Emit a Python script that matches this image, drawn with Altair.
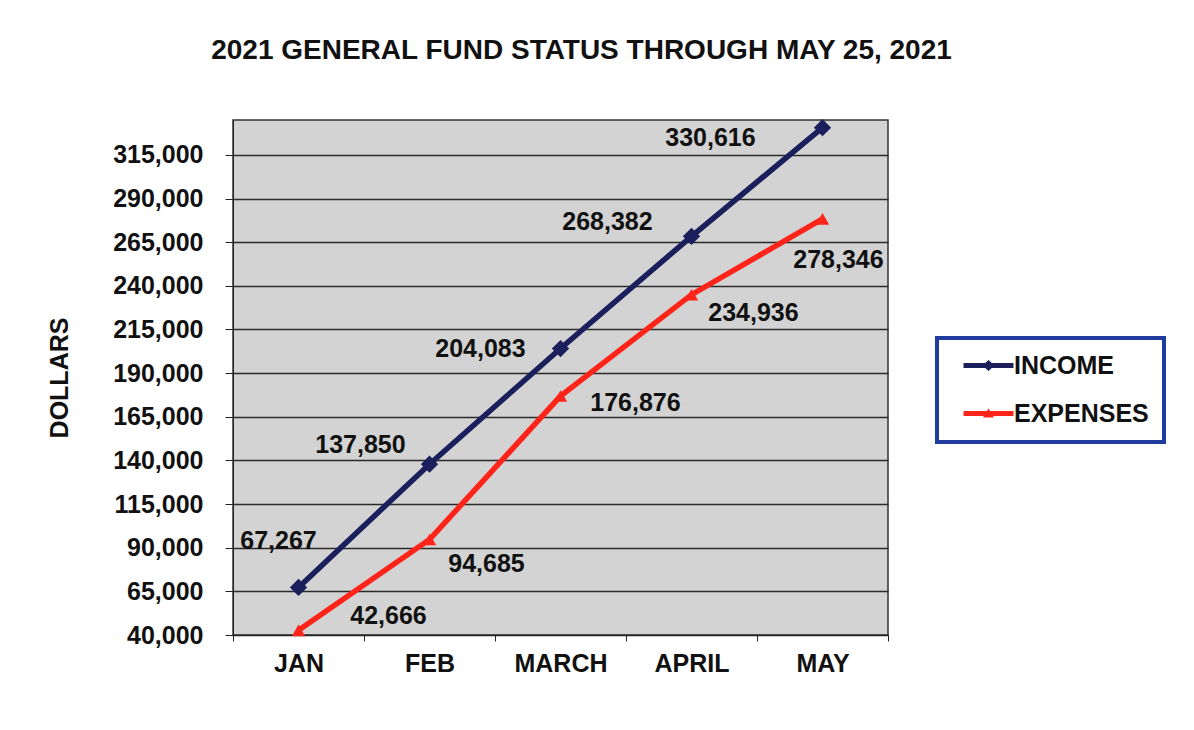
import altair as alt
import pandas as pd

months = ["JAN", "FEB", "MARCH", "APRIL", "MAY"]
income = [67267, 137850, 204083, 268382, 330616]
expenses = [42666, 94685, 176876, 234936, 278346]
series_names = ["INCOME", "EXPENSES"]
y_ticks = [40000, 65000, 90000, 115000, 140000, 165000, 190000,
           215000, 240000, 265000, 290000, 315000]

NAVY = "#1b1f5c"
RED = "#ff2419"
FONT = "Liberation Sans"
FS = 25

rows = []
for m, v in zip(months, income):
    rows.append({"month": m, "series": "INCOME", "value": v})
for m, v in zip(months, expenses):
    rows.append({"month": m, "series": "EXPENSES", "value": v})
df = pd.DataFrame(rows)

# label placement (pixel offsets from each point)
label_offsets = {
    ("INCOME", "JAN"): (-20, -46), ("INCOME", "FEB"): (-69, -19),
    ("INCOME", "MARCH"): (-80, 0), ("INCOME", "APRIL"): (-84, -14),
    ("INCOME", "MAY"): (-112, 10),
    ("EXPENSES", "JAN"): (90, -14), ("EXPENSES", "FEB"): (57, 24),
    ("EXPENSES", "MARCH"): (75, 7), ("EXPENSES", "APRIL"): (62, 18),
    ("EXPENSES", "MAY"): (16, 41),
}

# legend symbols: a short line with the series marker on it
legend_shapes = [
    "M-1,-0.25L4,-0.25L4,0.25L-1,0.25ZM1.5,-0.55L2.1,0L1.5,0.55L0.9,0Z",
    "M-1,-0.25L4,-0.25L4,0.25L-1,0.25ZM1.5,-0.5L2.05,0.4L0.95,0.4Z",
]

x_enc = alt.X(
    "month:N", sort=months,
    scale=alt.Scale(type="band", paddingInner=0, paddingOuter=0),
    axis=alt.Axis(title=None, labelAngle=0, labelFont=FONT, labelFontSize=FS,
                  labelFontWeight="bold", labelColor="#111", tickBand="extent",
                  grid=False, tickSize=6, tickColor="#222", domainColor="#222",
                  labelPadding=10),
)
y_enc = alt.Y(
    "value:Q",
    scale=alt.Scale(domain=[40000, 335000], nice=False, zero=False),
    axis=alt.Axis(values=y_ticks, format=",.0f", title="DOLLARS", titleFont=FONT,
                  titleFontSize=25, titleFontWeight="bold", titleColor="#111",
                  titlePadding=40, labelFont=FONT, labelFontSize=FS,
                  labelFontWeight="bold", labelColor="#111", labelPadding=22,
                  tickSize=8, tickColor="#222", domainColor="#222",
                  grid=True, gridColor="#2a2a2a", gridWidth=1.5),
)

legend = alt.Legend(
    title=None, orient="none", legendX=704, legendY=218,
    direction="vertical", labelFont=FONT, labelFontSize=FS,
    labelFontWeight="bold", labelColor="#111", symbolSize=400,
    symbolStrokeWidth=0, symbolOffset=9, labelOffset=28,
    rowPadding=22, padding=15, strokeColor="#1f3c9e", fillColor="white",
)

color_scale = alt.Scale(domain=series_names, range=[NAVY, RED])

legend_layer = alt.Chart(df).transform_filter("false").mark_point(
    filled=True, opacity=1
).encode(
    x=x_enc, y=y_enc,
    color=alt.Color("series:N", sort=series_names, scale=color_scale, legend=legend),
    shape=alt.Shape("series:N", sort=series_names,
                    scale=alt.Scale(domain=series_names, range=legend_shapes),
                    legend=legend),
)

line_income = alt.Chart(df).transform_filter(alt.datum.series == "INCOME").mark_line(
    strokeWidth=5.5, color=NAVY
).encode(x=x_enc, y=y_enc)

line_exp = alt.Chart(df).transform_filter(alt.datum.series == "EXPENSES").mark_line(
    strokeWidth=5.5, color=RED
).encode(x=x_enc, y=y_enc)

pts_income = alt.Chart(df).transform_filter(alt.datum.series == "INCOME").mark_point(
    shape="diamond", filled=True, size=300, color=NAVY, opacity=1
).encode(x=x_enc, y=y_enc)

pts_exp = alt.Chart(df).transform_filter(alt.datum.series == "EXPENSES").mark_point(
    shape="triangle-up", filled=True, size=180, color=RED, opacity=1
).encode(x=x_enc, y=y_enc)

layers = [legend_layer, line_income, line_exp, pts_income, pts_exp]
for (s, m), (dx, dy) in label_offsets.items():
    layers.append(
        alt.Chart(df)
        .transform_filter((alt.datum.series == s) & (alt.datum.month == m))
        .mark_text(dx=dx, dy=dy, font=FONT, fontSize=FS, fontWeight="bold",
                   color="#111", align="center", baseline="middle")
        .encode(x=x_enc, y=y_enc, text=alt.Text("value:Q", format=","))
    )

chart = alt.layer(*layers).properties(
    width=655, height=515,
    title=alt.TitleParams("2021 GENERAL FUND STATUS THROUGH MAY 25, 2021",
                          font=FONT, fontSize=28, fontWeight="bold",
                          color="#111", anchor="middle", dx=21, offset=30,
                          baseline="alphabetic"),
    autosize=alt.AutoSizeParams(type="none"),
    padding={"left": 225, "top": 112, "right": 290, "bottom": 80},
    background="white",
).configure_view(
    fill="#d3d3d3", stroke="#333", strokeWidth=1.5
).configure_legend(strokeWidth=4)

chart.save("out.html", embed_options={"renderer": "svg", "actions": False})
